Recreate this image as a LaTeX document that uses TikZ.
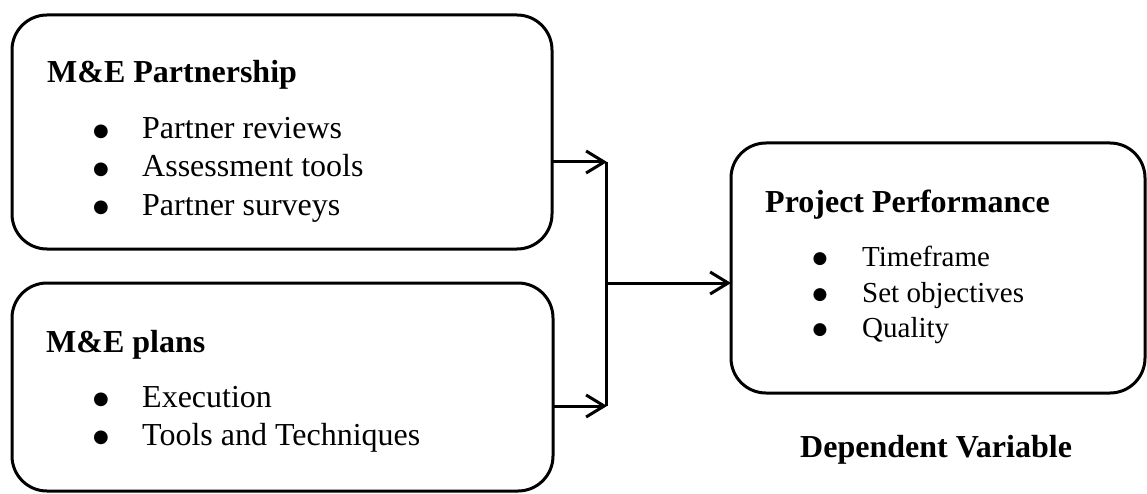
\documentclass[tikz,border=0pt]{standalone}
\usepackage{fontspec}
\setmainfont{Liberation Serif}
\newfontfamily\bulfont{DejaVu Sans}
\usetikzlibrary{arrows.meta}
\tikzset{
  box/.style={draw, line width=3pt, rounded corners=35pt, anchor=north west, inner sep=0pt, outer sep=0pt},
  ttl/.style={anchor=base west, inner sep=0pt, font=\fontsize{32}{38}\selectfont\bfseries},
  itm/.style={anchor=base west, inner sep=0pt, font=\fontsize{32}{38}\selectfont},
  itmsmall/.style={anchor=base west, inner sep=0pt, font=\fontsize{29}{35}\selectfont},
  bul/.style={anchor=base, inner sep=0pt, font=\bulfont\fontsize{18}{20}\selectfont},
  bulsmall/.style={anchor=base, inner sep=0pt, font=\bulfont\fontsize{17}{19}\selectfont},
  conn/.style={line width=3pt},
  arr/.style={line width=3pt, -{Straight Barb[length=18pt,width=22pt]}}
}
\begin{document}
\begin{tikzpicture}[x=1pt,y=-1pt]
\useasboundingbox (0,0) rectangle (1147,494);
% boxes
\node[box, minimum width=540pt, minimum height=234pt] (b1) at (12,15) {};
\node[box, minimum width=541pt, minimum height=208pt] (b2) at (12,283) {};
\node[box, minimum width=414pt, minimum height=250pt] (b3) at (731,143) {};
% box 1 text
\node[ttl] (t1) at (47,83) {M\&E Partnership};
\node[bul] (p1) at (101,136.5) {●};
\node[itm] (i1) at (142,139) {Partner reviews};
\node[bul] (p2) at (101,175) {●};
\node[itm] (i2) at (142,177) {Assessment tools};
\node[bul] (p3) at (101,213) {●};
\node[itm] (i3) at (142,215) {Partner surveys};
% box 2 text
\node[ttl] (t2) at (46,352) {M\&E plans};
\node[bul] (p4) at (101,404.5) {●};
\node[itm] (i4) at (142,407) {Execution};
\node[bul] (p5) at (101,442.5) {●};
\node[itm] (i5) at (142,445) {Tools and Techniques};
% box 3 text
\node[ttl] (t3) at (765,213) {Project Performance};
\node[bulsmall] (p6) at (820,263.5) {●};
\node[itmsmall] (i6) at (862,266) {Timeframe};
\node[bulsmall] (p7) at (820,299.5) {●};
\node[itmsmall] (i7) at (862,302) {Set objectives};
\node[bulsmall] (p8) at (820,334.5) {●};
\node[itmsmall] (i8) at (862,337) {Quality};
% caption
\node[ttl] (dv) at (800,457) {Dependent Variable};
% connectors
\coordinate (j1) at (607,162);
\coordinate (j2) at (606,283);
\coordinate (j3) at (607,406);
\coordinate (j1v) at (606,162);
\coordinate (j3v) at (606,406);
\draw[arr] (b1.east |- j1) -- (j1);
\draw[arr] (b2.east |- j3) -- (j3);
\draw[conn] (j1v) -- (j3v);
\draw[arr] (j2) -- (b3.west |- j2);
\end{tikzpicture}
\end{document}
